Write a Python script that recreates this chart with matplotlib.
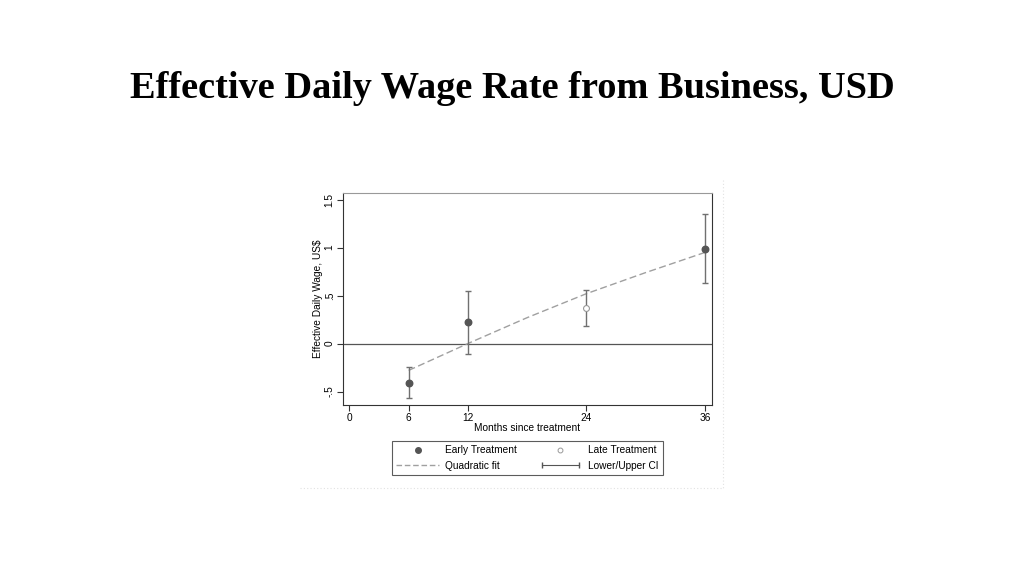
import numpy as np
import matplotlib
matplotlib.use("Agg")
from matplotlib import pyplot as plt
from matplotlib.lines import Line2D
from matplotlib.legend_handler import HandlerLine2D

# data
early_x = [6, 12, 36]
early_y = [-0.41, 0.22, 0.99]
early_lo = [-0.57, -0.11, 0.63]
early_hi = [-0.24, 0.55, 1.35]

late_x = [24]
late_y = [0.37]
late_lo = [0.18]
late_hi = [0.56]

fit_x = [6, 12, 18, 24, 30, 36]
fit_y = [-0.28, 0.0, 0.27, 0.52, 0.74, 0.95]

xticks = [0, 6, 12, 24, 36]
yticks = [-0.5, 0, 0.5, 1, 1.5]
yticklabels = ["-.5", "0", ".5", "1", "1.5"]

plt.rcParams['font.family'] = ['Liberation Sans', 'DejaVu Sans']

fig = plt.figure(figsize=(10.24, 5.76), dpi=100)
fig.text(0.5, 0.846, "Effective Daily Wage Rate from Business, USD",
         ha='center', va='center', fontsize=27.6, fontweight='bold',
         family=['Liberation Serif', 'DejaVu Serif'])

# faint dotted edge of the stata graph region
fig.add_artist(Line2D([300/1024, 723/1024], [1-488/576, 1-488/576], color='#e2e2e2',
                      lw=0.8, ls=(0, (1, 2)), transform=fig.transFigure))
fig.add_artist(Line2D([723/1024, 723/1024], [1-180/576, 1-488/576], color='#e2e2e2',
                      lw=0.8, ls=(0, (1, 2)), transform=fig.transFigure))

ax = fig.add_axes([0.335, 0.297, 0.36, 0.368])

ax.axhline(0, color='#555555', lw=0.9, zorder=1)
ax.plot(fit_x, fit_y, color='#a0a0a0', lw=1.0, ls=(0, (5, 2.5)), zorder=2)

e = np.array(early_y)
ax.errorbar(early_x, early_y,
            yerr=[e - np.array(early_lo), np.array(early_hi) - e],
            fmt='none', ecolor='#707070', elinewidth=1.0, capsize=2.5, capthick=1.0, zorder=3)
l = np.array(late_y)
ax.errorbar(late_x, late_y,
            yerr=[l - np.array(late_lo), np.array(late_hi) - l],
            fmt='none', ecolor='#707070', elinewidth=1.0, capsize=2.5, capthick=1.0, zorder=3)
ax.scatter(early_x, early_y, s=22, color='#555555', zorder=4)
ax.scatter(late_x, late_y, s=18, facecolor='white', edgecolor='#999999', lw=0.8, zorder=4)

ax.set_xlim(-0.64, 36.68)
ax.set_ylim(-0.64, 1.57)
ax.set_xticks(xticks)
ax.set_yticks(yticks)
ax.set_yticklabels(yticklabels, rotation=90, va='center')
ax.tick_params(labelsize=7.3, length=4, width=0.8, color='#333333', pad=2)
ax.set_xlabel("Months since treatment", fontsize=7.3, labelpad=0)
ax.set_ylabel("Effective Daily Wage, US$", fontsize=7.3, labelpad=1)
for s in ax.spines.values():
    s.set_color('#333333')
    s.set_linewidth(0.8)
ax.spines['top'].set_color('#999999')

h_early = Line2D([], [], ls='none', marker='o', ms=4, color='#555555')
h_late = Line2D([], [], ls='none', marker='o', ms=3.5, mfc='white', mec='#999999', mew=0.7)
h_fit = Line2D([], [], color='#a0a0a0', lw=1.0, ls=(0, (4, 2)))
h_ci = Line2D([], [], color='#555555', lw=0.8, marker='|', ms=5)

leg = fig.legend([h_early, h_fit, h_late, h_ci],
                 ["Early Treatment", "Quadratic fit", "Late Treatment", "Lower/Upper CI"],
                 ncol=2, loc='center', bbox_to_anchor=(0.515, 0.205),
                 fontsize=7.3, frameon=True, fancybox=False, handlelength=4.2,
                 columnspacing=2.2, handletextpad=0.6, labelspacing=0.55,
                 borderpad=0.45, borderaxespad=0,
                 handler_map={h_ci: HandlerLine2D(numpoints=2),
                              h_early: HandlerLine2D(numpoints=1),
                              h_late: HandlerLine2D(numpoints=1)})
leg.get_frame().set_edgecolor('#333333')
leg.get_frame().set_linewidth(0.8)

fig.savefig("out.png", dpi=100, facecolor='white')
